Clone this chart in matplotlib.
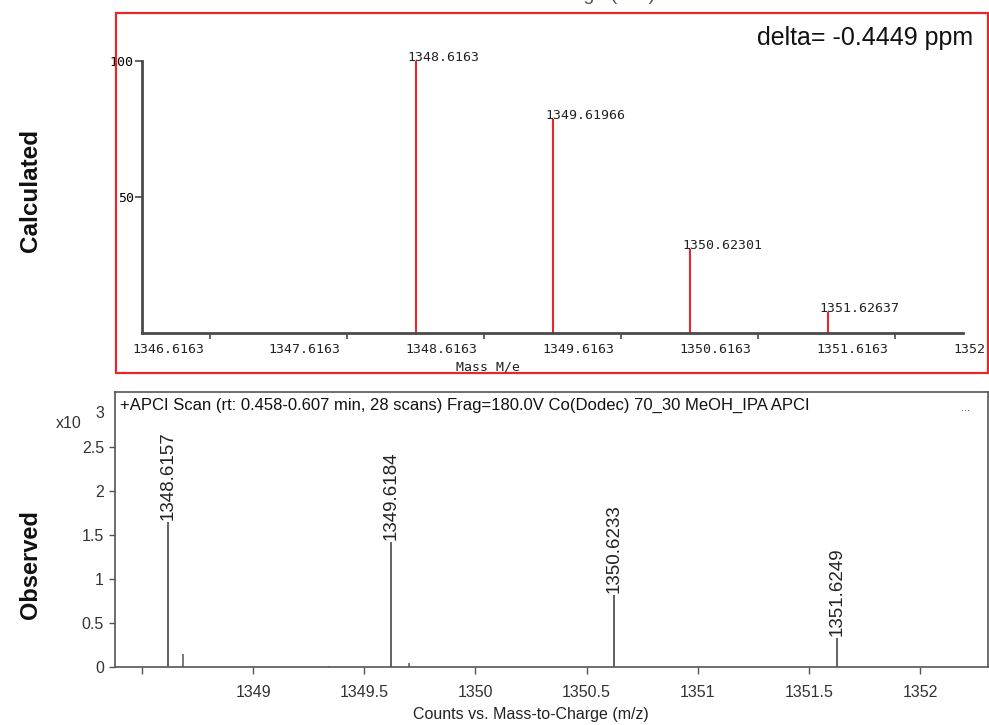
import matplotlib
matplotlib.use("Agg")
import matplotlib.pyplot as plt
from matplotlib.patches import Rectangle
from matplotlib.transforms import offset_copy

# ---------------- data ----------------
calc_mz = [1348.6163, 1349.61966, 1350.62301, 1351.62637]
calc_int = [100, 78.5, 30.8, 7.6]
calc_labels = ["1348.6163", "1349.61966", "1350.62301", "1351.62637"]
calc_ytick_vals = [50, 100]
calc_ytick_labels = ["50", "100"]
calc_xtick_marks = [1347.1163, 1348.1163, 1349.1163, 1350.1163, 1351.1163, 1352.1163]
calc_xlabel_pos = [1346.6163, 1347.6163, 1348.6163, 1349.6163, 1350.6163, 1351.6163, 1352.6163]
calc_xlabel_txt = ["1346.6163", "1347.6163", "1348.6163", "1349.6163", "1350.6163", "1351.6163", "1352"]

obs_mz = [1348.6157, 1349.6184, 1350.6233, 1351.6249]
obs_int = [1.65, 1.42, 0.82, 0.33]
obs_labels = ["1348.6157", "1349.6184", "1350.6233", "1351.6249"]
obs_minor_mz = [1348.685, 1349.34, 1349.70]
obs_minor_int = [0.15, 0.012, 0.05]
obs_xticks = [1348.5, 1349, 1349.5, 1350, 1350.5, 1351, 1351.5, 1352]
obs_xtick_labels = ["", "1349", "1349.5", "1350", "1350.5", "1351", "1351.5", "1352"]
obs_yticks = [0, 0.5, 1, 1.5, 2, 2.5]
obs_ytick_labels = ["0", "0.5", "1", "1.5", "2", "2.5"]

W, H = 989, 725
fig = plt.figure(figsize=(W / 100, H / 100), dpi=100)

def fx(px):
    return px / W

def fy(py):
    return 1 - py / H

sans = ["Liberation Sans", "DejaVu Sans"]
mono = ["DejaVu Sans Mono"]
RED = "#e8262b"
DARK = "#4a4a4a"

# partially cut title of a panel above (only its lowest pixels show, as in the source)
fig.text(fx(511), fy(0.5), "Counts vs. Mass-to-Charge (m/z)", family=sans, fontsize=14,
         ha="center", va="baseline", color="#555555")

# ---------------- top panel (calculated) ----------------
fig.patches.append(Rectangle((fx(115.5), fy(373)), fx(988 - 115.5), (373 - 12.5) / H,
                             transform=fig.transFigure, fill=False, edgecolor=RED, lw=1.6))

ax1 = fig.add_axes([fx(142), fy(333), fx(963 - 142), (333 - 61) / H])
ax1.set_xlim(1346.6163, 1352.6163)
ax1.set_ylim(0, 100)
ax1.vlines(calc_mz, 0, calc_int, colors=RED, lw=1.5)
for s in ["top", "right"]:
    ax1.spines[s].set_visible(False)
for s in ["left", "bottom"]:
    ax1.spines[s].set_color(DARK)
    ax1.spines[s].set_linewidth(2)
ax1.set_yticks(calc_ytick_vals)
ax1.set_yticklabels(calc_ytick_labels, family=mono, fontsize=9.5)
ax1.tick_params(axis="y", length=5, width=1.2, color=DARK, pad=1)
ax1.set_xticks(calc_xtick_marks)
ax1.set_xticklabels([])
ax1.tick_params(axis="x", length=4, width=1.2, color=DARK)
ax1.patch.set_alpha(0)

lbl_tr = offset_copy(ax1.transData, fig=fig, x=-8, y=0, units="dots")
for m, v, t in zip(calc_mz, calc_int, calc_labels):
    ax1.text(m, v, t, transform=lbl_tr, family=mono, fontsize=9.5,
             ha="left", va="baseline", color="#222222", clip_on=False)

xl_tr = offset_copy(ax1.get_xaxis_transform(), fig=fig, x=-10, y=-20, units="dots")
for p, t in zip(calc_xlabel_pos, calc_xlabel_txt):
    ax1.text(p, 0, t, transform=xl_tr, family=mono, fontsize=9.5,
             ha="left", va="baseline", color="#222222", clip_on=False)

fig.text(fx(488), fy(367), "Mass M/e", family=mono, fontsize=9.5,
         ha="center", va="center", color="#222222")

fig.text(fx(973), fy(45), "delta= -0.4449 ppm", family=sans, fontsize=18,
         ha="right", va="baseline", color="#111111")

fig.text(fx(30), fy(190), "Calculated", family=sans, fontsize=17.5, fontweight="bold",
         rotation=90, ha="center", va="center", color="#111111")

# ---------------- bottom panel (observed) ----------------
ax2 = fig.add_axes([fx(115), fy(667), fx(988 - 115), (667 - 392) / H])
ax2.set_xlim(1348.378, 1352.306)
ax2.set_ylim(0, 3.125)
ax2.vlines(obs_mz, 0, obs_int, colors="#555555", lw=1.3)
ax2.vlines(obs_minor_mz, 0, obs_minor_int, colors="#555555", lw=1.1)
for s in ax2.spines.values():
    s.set_color("#555555")
    s.set_linewidth(1.2)
ax2.set_xticks(obs_xticks)
ax2.set_xticklabels(obs_xtick_labels, family=sans, fontsize=11.5, color="#333333")
ax2.set_yticks(obs_yticks)
ax2.set_yticklabels(obs_ytick_labels, family=sans, fontsize=11.5, color="#333333")
ax2.tick_params(axis="x", length=5, width=1, color="#555555", pad=8)
ax2.tick_params(axis="y", length=4, width=1, color="#555555", pad=4)

pk_tr = offset_copy(ax2.transData, fig=fig, x=0, y=2, units="dots")
for m, v, t in zip(obs_mz, obs_int, obs_labels):
    ax2.text(m, v, t, transform=pk_tr, family=sans, fontsize=13.5, rotation=90,
             ha="center", va="bottom", color="#222222", clip_on=False)

ax2.text((120 - 115) / (988 - 115), 1 - (405 - 392) / (667 - 392),
         "+APCI Scan (rt: 0.458-0.607 min, 28 scans) Frag=180.0V Co(Dodec) 70_30 MeOH_IPA APCI",
         transform=ax2.transAxes, family=sans, fontsize=12, ha="left", va="center", color="#111111")
ax2.text((965 - 115) / (988 - 115), 1 - (408 - 392) / (667 - 392), "...",
         transform=ax2.transAxes, family=sans, fontsize=8, ha="center", va="center", color="#333333")

fig.text(fx(82), fy(424), "x10", family=sans, fontsize=11.5, ha="right", va="center", color="#333333")
fig.text(fx(100), fy(414), "3", family=sans, fontsize=11.5, ha="center", va="center", color="#333333")

fig.text(fx(531), fy(714), "Counts vs. Mass-to-Charge (m/z)", family=sans, fontsize=11.5,
         ha="center", va="center", color="#222222")

fig.text(fx(30), fy(565), "Observed", family=sans, fontsize=17, fontweight="bold",
         rotation=90, ha="center", va="center", color="#111111")

fig.savefig("out.png", dpi=100, facecolor="white")
